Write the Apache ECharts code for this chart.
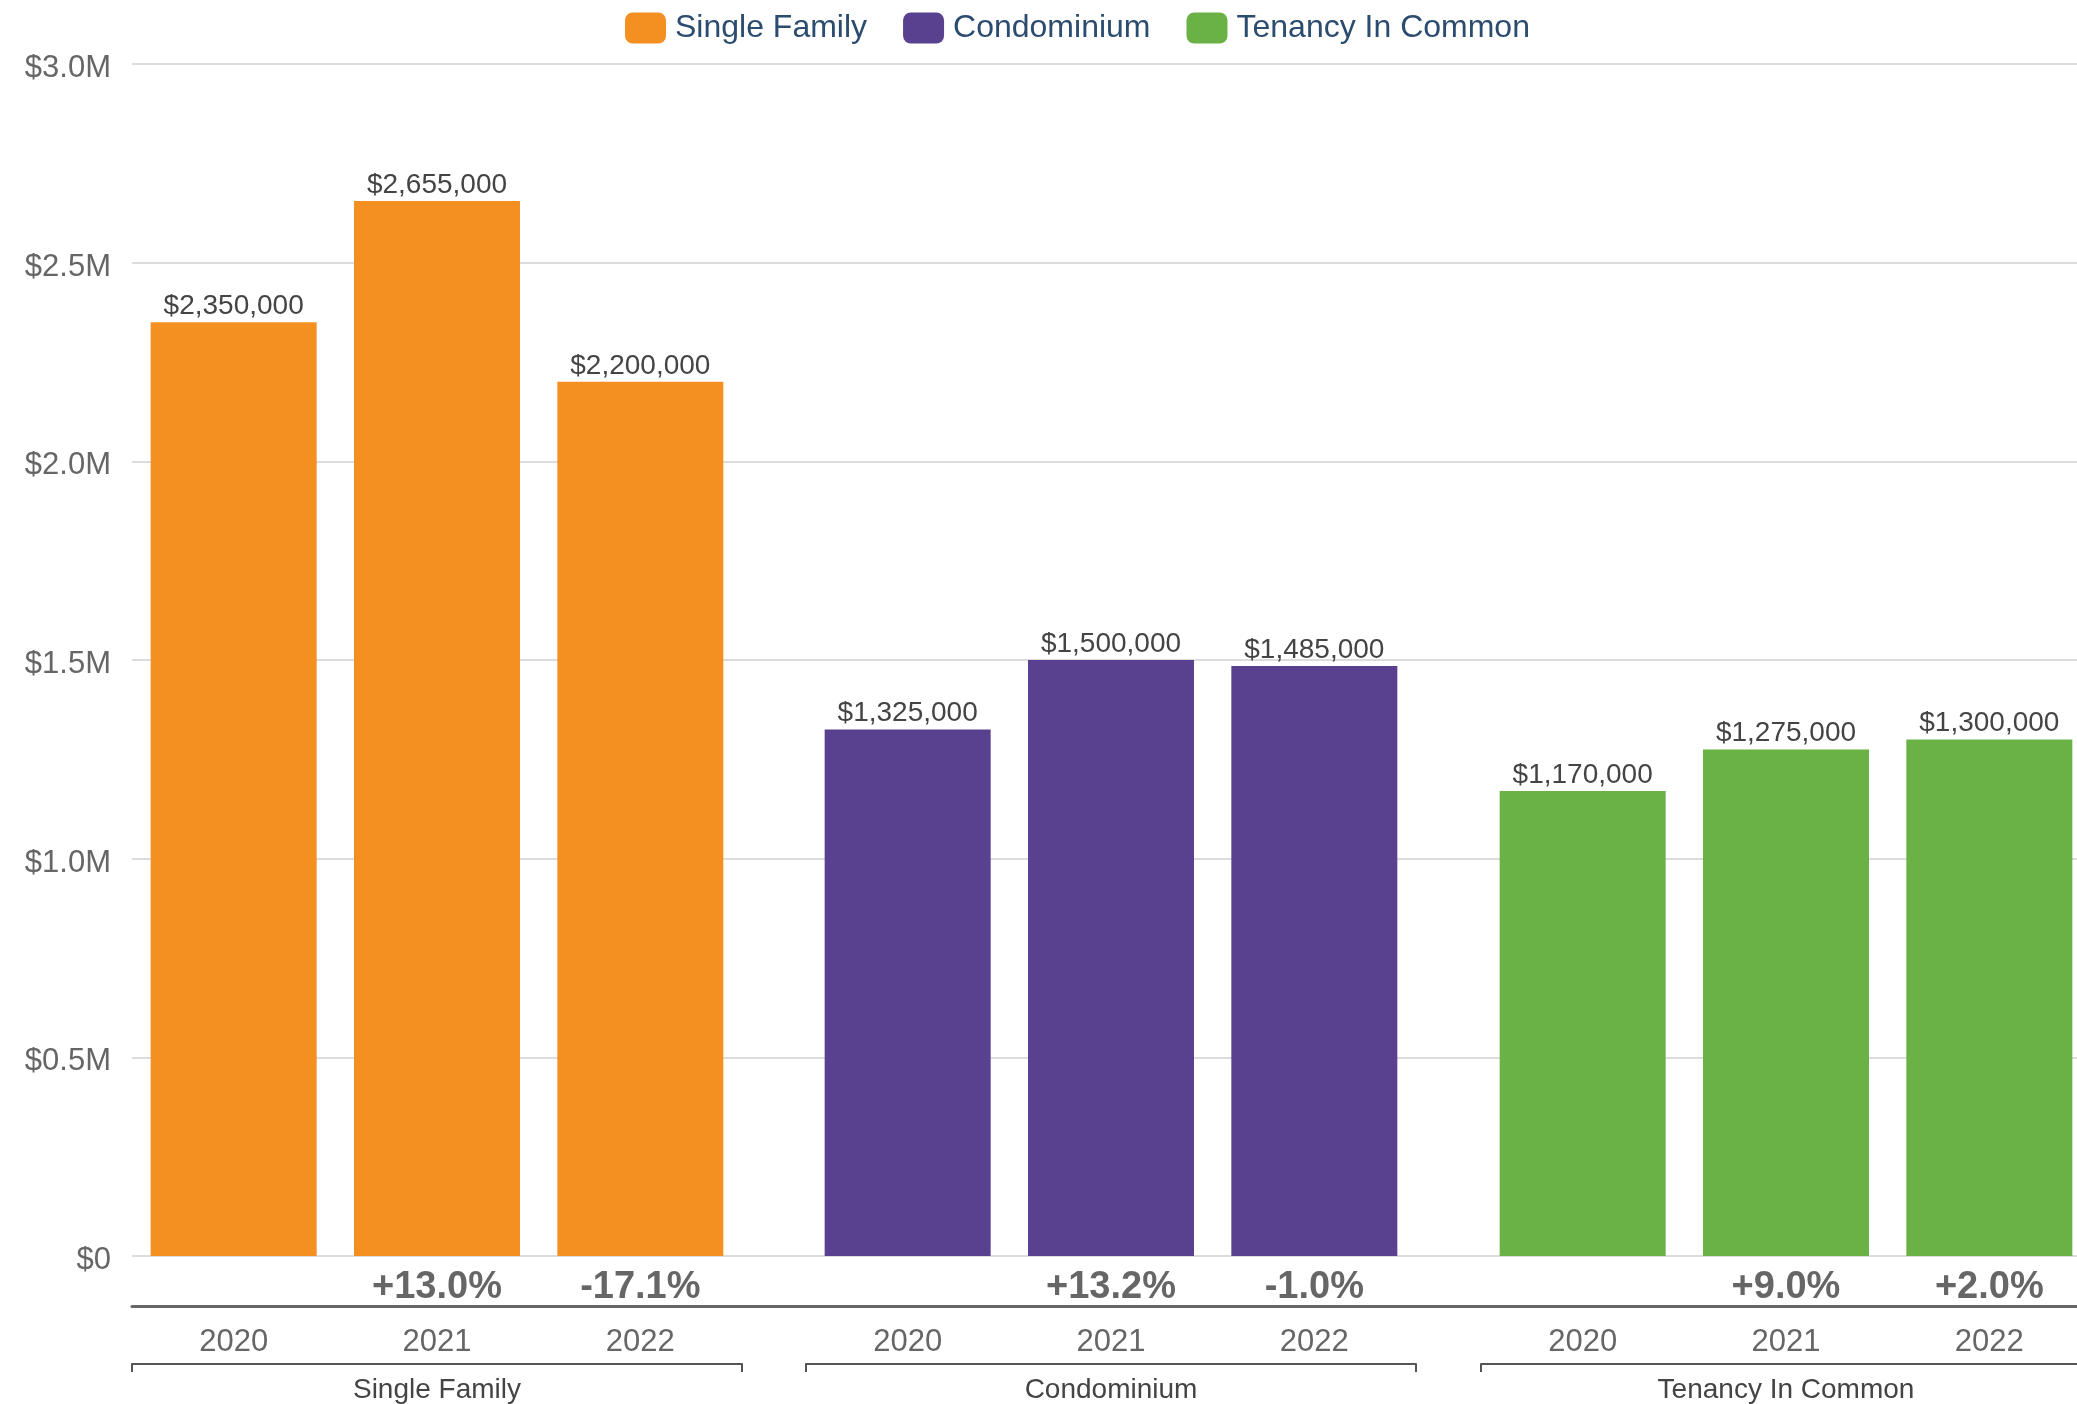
<!DOCTYPE html>
<html><head><meta charset="utf-8">
<script src="https://cdn.jsdelivr.net/npm/echarts@6/dist/echarts.min.js"></script>
<style>html,body{margin:0;padding:0;background:#fff}#c{width:2077px;height:1404px}</style>
</head><body><div id="c"></div>
<script>
const years = ['2020', '2021', '2022'];
const groups = ['Single Family', 'Condominium', 'Tenancy In Common'];
const singleFamily = [2350000, 2655000, 2200000];
const condominium = [1325000, 1500000, 1485000];
const tenancyInCommon = [1170000, 1275000, 1300000];
const pctSingleFamily = ['', '+13.0%', '-17.1%'];
const pctCondominium = ['', '+13.2%', '-1.0%'];
const pctTenancy = ['', '+9.0%', '+2.0%'];
const yTicks = ['$0', '$0.5M', '$1.0M', '$1.5M', '$2.0M', '$2.5M', '$3.0M'];

const values = [singleFamily, condominium, tenancyInCommon];
const pcts = [pctSingleFamily, pctCondominium, pctTenancy];
const colors = ['#f39021', '#5a4190', '#6ab245'];
const FF = 'Liberation Sans, Arial, Helvetica, sans-serif';
const groupLeft = [132, 806, 1481];
const groupWidth = 610;
const W = 2077;

const grid = [{left: 132, right: 0, top: 64, bottom: 148, outerBoundsMode: 'none', containLabel: false}];
const xAxis = [{
  gridIndex: 0, type: 'value', min: 0, max: 1, position: 'bottom', offset: 50,
  axisLine: {show: true, onZero: false, lineStyle: {color: '#666', width: 3}},
  axisTick: {show: false}, axisLabel: {show: false}, splitLine: {show: false}
}];
const yAxis = [{
  gridIndex: 0, type: 'value', min: 0, max: 3000000, interval: 500000,
  axisLine: {show: false}, axisTick: {show: false},
  axisLabel: {margin: 21, color: '#666', fontSize: 31, fontFamily: FF,
    formatter: (v) => '{a|' + yTicks[Math.round(v / 500000)] + '}',
    rich: {a: {fontSize: 31, color: '#666', fontFamily: FF, padding: [9, 0, 0, 0]}}},
  splitLine: {lineStyle: {color: '#dcdcdc', width: 2}}
}];
const series = [];
groups.forEach((g, i) => {
  const gi = i + 1;
  grid.push({left: groupLeft[i], right: W - groupLeft[i] - groupWidth, top: 64, bottom: 148,
    outerBoundsMode: 'none', containLabel: false});
  yAxis.push({gridIndex: gi, type: 'value', min: 0, max: 3000000, show: false});
  const base = xAxis.length;
  // percentage labels
  xAxis.push({gridIndex: gi, type: 'category', data: years, position: 'bottom',
    axisLine: {show: false, onZero: false}, axisTick: {show: false}, splitLine: {show: false},
    axisLabel: {margin: 13, fontSize: 38, fontWeight: 'bold', color: '#666', fontFamily: FF,
      formatter: (v, idx) => pcts[i][idx]}});
  // year labels
  xAxis.push({gridIndex: gi, type: 'category', data: years, position: 'bottom', offset: 50,
    axisLine: {show: false, onZero: false}, axisTick: {show: false}, splitLine: {show: false},
    axisLabel: {margin: 21, fontSize: 31, color: '#666', fontFamily: FF}});
  // group bracket
  xAxis.push({gridIndex: gi, type: 'category', data: [g], position: 'bottom', offset: 108,
    axisLine: {show: true, onZero: false, lineStyle: {color: '#555', width: 2}},
    axisTick: {show: true, length: 8, lineStyle: {color: '#555', width: 2}},
    splitLine: {show: false},
    axisLabel: {margin: 12, fontSize: 28, color: '#444', fontFamily: FF}});
  series.push({
    name: g, type: 'bar', xAxisIndex: base, yAxisIndex: gi,
    data: values[i], barWidth: 166,
    itemStyle: {color: colors[i]},
    label: {show: true, position: 'top', distance: 2, fontSize: 28, color: '#444', fontFamily: FF,
      formatter: (p) => '$' + p.value.toLocaleString('en-US')}
  });
});

const chart = echarts.init(document.getElementById('c'));
chart.setOption({
  animation: false,
  backgroundColor: '#fff',
  legend: {
    top: 7, left: 620, icon: 'roundRect', itemWidth: 41, itemHeight: 31, itemGap: 36,
    textStyle: {fontSize: 32, color: '#2b4c6f', fontFamily: FF, padding: [0, 0, 0, 4]},
    data: groups
  },
  grid, xAxis, yAxis, series
});
</script></body></html>
